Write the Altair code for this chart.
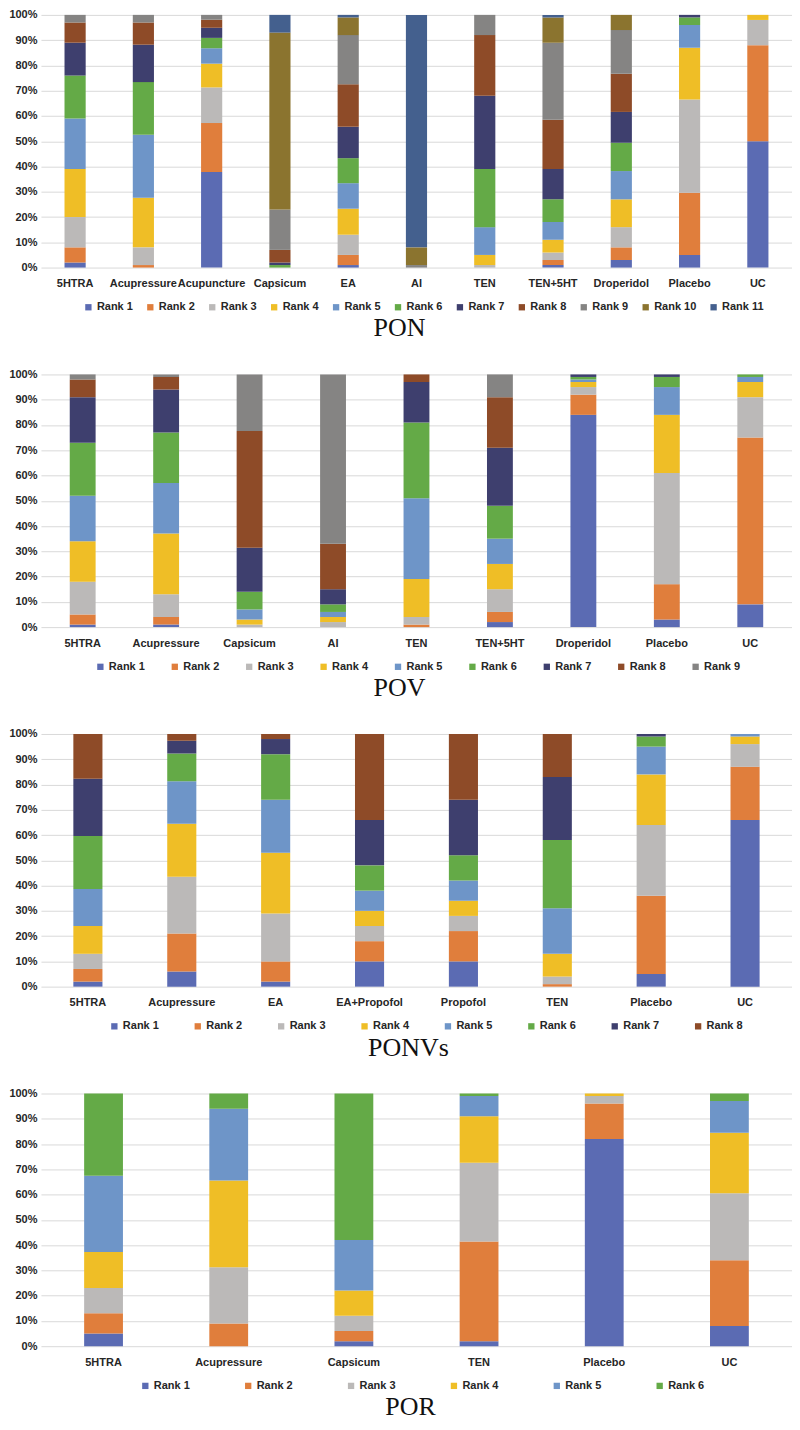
import altair as alt
import pandas as pd

RANK_COLORS = ["#5B6BB3", "#E07E3C", "#BBB9B8", "#EFBE26", "#6E95C8", "#64AA47",
               "#3E3F6E", "#8E4B28", "#858483", "#8B742F", "#44608E"]

# ---------------- PON ----------------
pon_categories = ["5HTRA", "Acupressure", "Acupuncture", "Capsicum", "EA", "AI",
                  "TEN", "TEN+5HT", "Droperidol", "Placebo", "UC"]
pon_5htra = [2, 6, 12, 19, 20, 17, 13, 8, 3, 0, 0]
pon_acupressure = [0, 1, 7, 19.6, 25, 20.8, 14.8, 8.8, 3, 0, 0]
pon_acupuncture = [37.8, 19.4, 14.1, 9.4, 6.1, 4.1, 4.0, 3.2, 1.9, 0, 0]
pon_capsicum = [0, 0, 0, 0, 0, 1, 1, 5, 16, 70, 7]
pon_ea = [1, 4, 8, 10.3, 10.1, 9.9, 12.4, 16.9, 19.4, 7, 1]
pon_ai = [0, 0, 0, 0, 0, 0, 0, 0, 1, 7, 92]
pon_ten = [0, 0, 1, 4, 11, 23, 29, 24, 8, 0, 0]
pon_ten5ht = [1, 2, 3, 5, 7, 9, 12, 19.5, 30.5, 10, 1]
pon_droperidol = [3, 5, 8, 11, 11.2, 11.2, 12.2, 15.1, 17.3, 6, 0]
pon_placebo = [5, 24.6, 36.9, 20.5, 9, 3, 1, 0, 0, 0, 0]
pon_uc = [50, 38, 10, 2, 0, 0, 0, 0, 0, 0, 0]

# ---------------- POV ----------------
pov_categories = ["5HTRA", "Acupressure", "Capsicum", "AI", "TEN", "TEN+5HT",
                  "Droperidol", "Placebo", "UC"]
pov_5htra = [1, 4, 13, 16, 18, 21, 18, 7, 2]
pov_acupressure = [1, 3, 9, 24, 20, 20, 17, 5, 1]
pov_capsicum = [0, 0, 1, 2, 4, 7, 17.4, 46.2, 22.4]
pov_ai = [0, 0, 2, 2, 2, 3, 6, 18, 67]
pov_ten = [0, 1, 3, 15, 32, 30, 16, 3, 0]
pov_ten5ht = [2, 4, 9, 10, 10, 13, 23, 20, 9]
pov_droperidol = [84, 8, 3, 2, 1, 1, 1, 0, 0]
pov_placebo = [3, 14, 44, 23, 11, 4, 1, 0, 0]
pov_uc = [9, 66, 16, 6, 2, 1, 0, 0, 0]

# ---------------- PONVs ----------------
ponvs_categories = ["5HTRA", "Acupressure", "EA", "EA+Propofol", "Propofol",
                    "TEN", "Placebo", "UC"]
ponvs_5htra = [2, 5, 6, 11, 14.6, 21, 22.7, 17.7]
ponvs_acupressure = [6, 15, 22.5, 21, 16.8, 11, 5, 2.7]
ponvs_ea = [2, 8, 19, 24, 21, 18, 6, 2]
ponvs_ea_propofol = [10, 8, 6, 6, 8, 10, 18, 34]
ponvs_propofol = [10, 12, 6, 6, 8, 10, 22, 26]
ponvs_ten = [0, 1, 3, 9, 18, 27, 25, 17]
ponvs_placebo = [5, 31, 28, 20, 11, 4, 1, 0]
ponvs_uc = [66, 21, 9, 3, 1, 0, 0, 0]

# ---------------- POR ----------------
por_categories = ["5HTRA", "Acupressure", "Capsicum", "TEN", "Placebo", "UC"]
por_5htra = [5, 8, 10, 14.3, 30.2, 32.5]
por_acupressure = [0, 9, 22.2, 34.4, 28.4, 6]
por_capsicum = [2, 4, 6, 10, 20, 58]
por_ten = [2, 39.4, 31.2, 18.4, 8, 1]
por_placebo = [82, 14, 3, 1, 0, 0]
por_uc = [8, 26, 26.5, 24, 12.5, 3]

FONT = "Liberation Sans"
TEXT = "#262626"
PLOT_W = 752
PLOT_H = 253


def panel(title, categories, series, n_ranks, legend_x, col_pad, title_dx):
    ranks = [f"Rank {i}" for i in range(1, n_ranks + 1)]
    rows = []
    for cat, vals in zip(categories, series):
        for i, v in enumerate(vals):
            if v > 0:
                rows.append({"cat": cat, "rank": ranks[i], "idx": i, "value": v})
    df = pd.DataFrame(rows)
    return alt.Chart(df).mark_bar().encode(
        x=alt.X("cat:N", sort=categories,
                scale=alt.Scale(paddingInner=0.69, paddingOuter=0.345),
                axis=alt.Axis(title=None, labelAngle=0, domain=False, ticks=False,
                              labelPadding=10, labelFontSize=11, labelFont=FONT,
                              labelFontWeight="bold", labelColor=TEXT,
                              labelOverlap=False, grid=False)),
        y=alt.Y("value:Q", stack="normalize", scale=alt.Scale(domain=[0, 1]),
                axis=alt.Axis(title=None, format=".0%",
                              values=[0, 0.1, 0.2, 0.3, 0.4, 0.5, 0.6, 0.7, 0.8, 0.9, 1.0],
                              domain=False, ticks=False, labelPadding=4,
                              labelFontSize=11, labelFont=FONT, labelFontWeight="bold",
                              labelColor=TEXT, gridColor="#D9D9D9", gridWidth=1)),
        color=alt.Color("rank:N",
                        scale=alt.Scale(domain=ranks, range=RANK_COLORS[:n_ranks]),
                        legend=alt.Legend(title=None, orient="none", legendX=legend_x,
                                          legendY=PLOT_H + 34, direction="horizontal",
                                          columns=n_ranks, columnPadding=col_pad,
                                          symbolType="square", symbolSize=40,
                                          symbolStrokeWidth=0, labelOffset=3,
                                          labelFontSize=11, labelFont=FONT,
                                          labelFontWeight="bold", labelColor=TEXT)),
        order=alt.Order("idx:Q", sort="ascending"),
    ).properties(
        width=PLOT_W, height=PLOT_H,
        title=alt.TitleParams(text=title, orient="bottom", anchor="middle",
                              font="Liberation Serif", fontSize=26, dx=title_dx,
                              fontWeight="normal", color="#111111", offset=3),
    )


p1 = panel("PON", pon_categories,
           [pon_5htra, pon_acupressure, pon_acupuncture, pon_capsicum, pon_ea, pon_ai,
            pon_ten, pon_ten5ht, pon_droperidol, pon_placebo, pon_uc], 11, 42, 11, -17)
p2 = panel("POV", pov_categories,
           [pov_5htra, pov_acupressure, pov_capsicum, pov_ai, pov_ten, pov_ten5ht,
            pov_droperidol, pov_placebo, pov_uc], 9, 54, 23.5, -17)
p3 = panel("PONVs", ponvs_categories,
           [ponvs_5htra, ponvs_acupressure, ponvs_ea, ponvs_ea_propofol, ponvs_propofol,
            ponvs_ten, ponvs_placebo, ponvs_uc], 8, 68, 32.5, -8)
p4 = panel("POR", por_categories,
           [por_5htra, por_acupressure, por_capsicum, por_ten, por_placebo, por_uc],
           6, 99, 52, -6)

chart = alt.vconcat(p1, p2, p3, p4, spacing=27).resolve_scale(
    color="independent"
).resolve_legend(color="independent").properties(
    padding={"left": 0, "top": 0, "right": 0, "bottom": 0}
).configure_view(stroke=None)

chart.save("out.html", embed_options={"renderer": "svg", "actions": False})
